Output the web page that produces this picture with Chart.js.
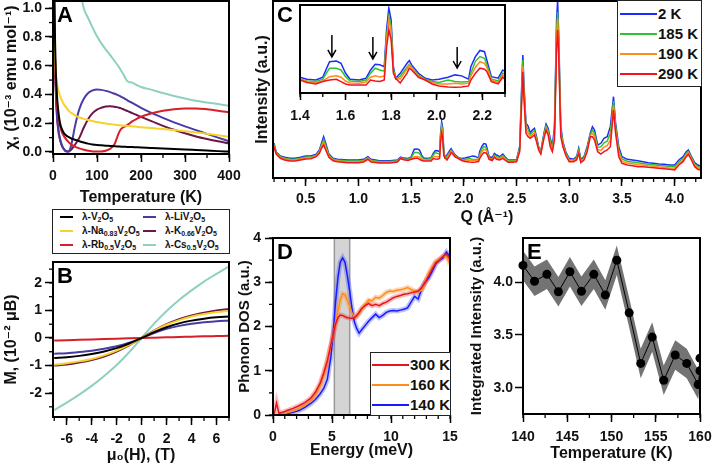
<!DOCTYPE html>
<html>
<head>
<meta charset="utf-8">
<script src="https://cdn.jsdelivr.net/npm/chart.js@4.4.0/dist/chart.umd.min.js"></script>
<style>
  body { margin: 0; width: 713px; height: 465px; position: relative; overflow: hidden; background: #fff;
         font-family: 'Liberation Sans', 'DejaVu Sans', sans-serif; color: #111; }
  canvas { position: absolute; }
  .leg { position: absolute; border: 1px solid #222; background: #fff; font-weight: bold; z-index: 5; }
  .leg .it { position: absolute; white-space: nowrap; }
  .leg .ln { position: absolute; height: 2px; }
  .leg sub { font-size: 7px; vertical-align: -2px; line-height: 0; }
</style>
</head>
<body>
<canvas id="cA" width="245" height="210" style="left:0;top:0"></canvas>
<canvas id="cB" width="245" height="209" style="left:0;top:256px"></canvas>
<canvas id="cC" width="463" height="228" style="left:250px;top:0"></canvas>
<canvas id="cIn" width="225" height="128" style="left:290px;top:0"></canvas>
<canvas id="cD" width="230" height="237" style="left:230px;top:228px"></canvas>
<canvas id="cE" width="253" height="237" style="left:460px;top:228px"></canvas>
<div id="legAB" class="leg" style="left:52px;top:209px;width:176px;height:43px"></div>
<div id="legC" class="leg" style="left:617px;top:0;width:83px;height:85px"></div>
<div id="legD" class="leg" style="left:370px;top:352px;width:79px;height:62px"></div>
<script>
// ---------- A: susceptibility vs temperature ----------
var tempA = [2,4,6,8,10,13,16,20,25,30,35,40,45,50,60,70,80,90,100,110,120,130,140,145,150,155,160,165,170,180,190,200,225,250,275,300,325,350,375,400];
var chiV  = [1.5,0.9,0.6,0.45,0.35,0.26,0.2,0.16,0.13,0.115,0.105,0.097,0.09,0.085,0.075,0.066,0.058,0.052,0.048,0.046,0.044,0.042,0.04,0.039,0.038,0.037,0.036,0.036,0.035,0.034,0.033,0.032,0.028,0.025,0.021,0.018,0.014,0.01,0.006,0.003];
var chiNa = [1.0,0.7,0.56,0.5,0.46,0.42,0.39,0.36,0.33,0.31,0.29,0.275,0.265,0.255,0.24,0.23,0.222,0.215,0.208,0.203,0.198,0.194,0.19,0.188,0.186,0.185,0.183,0.182,0.181,0.178,0.175,0.172,0.166,0.16,0.153,0.145,0.136,0.127,0.117,0.106];
var chiRb = [1.0,0.7,0.5,0.38,0.3,0.23,0.18,0.14,0.11,0.088,0.07,0.056,0.046,0.037,0.025,0.015,0.008,0.004,0.003,0.004,0.009,0.022,0.055,0.095,0.135,0.16,0.172,0.18,0.19,0.213,0.23,0.245,0.27,0.287,0.298,0.303,0.303,0.297,0.287,0.275];
var chiLi = [1.2,0.75,0.48,0.32,0.22,0.14,0.09,0.05,0.02,0.005,0.003,0.03,0.1,0.18,0.3,0.37,0.41,0.428,0.435,0.432,0.425,0.416,0.405,0.399,0.392,0.384,0.376,0.367,0.358,0.341,0.324,0.307,0.27,0.237,0.206,0.178,0.152,0.126,0.1,0.075];
var chiK  = [1.1,0.7,0.45,0.3,0.21,0.13,0.085,0.045,0.018,0.005,0.003,0.012,0.03,0.05,0.1,0.17,0.23,0.27,0.295,0.308,0.316,0.318,0.315,0.312,0.308,0.303,0.297,0.29,0.284,0.27,0.257,0.244,0.213,0.182,0.155,0.13,0.108,0.09,0.074,0.06];
var chiCs = [null,null,null,null,null,null,null,null,null,null,null,null,null,1.35,1.15,1.0,0.93,0.865,0.805,0.755,0.712,0.673,0.632,0.612,0.59,0.565,0.54,0.51,0.49,0.482,0.466,0.452,0.432,0.41,0.39,0.372,0.356,0.344,0.333,0.322];
var tickAx = [0,100,200,300,400];
var tickAy = [0,0.2,0.4,0.6,0.8,1.0];

// ---------- B: magnetisation vs field ----------
var fieldB = [-7,-6,-5,-4,-3,-2,-1,0,1,2,3,4,5,6,7];
var magV  = [-0.73,-0.7,-0.65,-0.58,-0.49,-0.37,-0.2,0,0.21,0.39,0.53,0.63,0.7,0.75,0.78];
var magNa = [-0.97,-0.92,-0.85,-0.76,-0.63,-0.46,-0.25,0,0.26,0.48,0.65,0.78,0.87,0.94,0.99];
var magRb = [-0.09,-0.08,-0.065,-0.052,-0.04,-0.027,-0.013,0,0.012,0.024,0.036,0.048,0.06,0.07,0.08];
var magLi = [-0.57,-0.55,-0.51,-0.46,-0.39,-0.3,-0.17,0,0.18,0.33,0.44,0.52,0.57,0.61,0.63];
var magK  = [-1.0,-0.96,-0.89,-0.8,-0.67,-0.49,-0.27,0,0.27,0.5,0.68,0.82,0.92,1.0,1.05];
var magCs = [-2.62,-2.35,-2.06,-1.74,-1.38,-0.98,-0.52,0,0.52,0.98,1.38,1.73,2.05,2.33,2.6];
var tickBx = [-6,-4,-2,0,2,4,6];
var tickBy = [-2,-1,0,1,2];

var abNames = ['λ-V<sub>2</sub>O<sub>5</sub>', 'λ-Na<sub>0.83</sub>V<sub>2</sub>O<sub>5</sub>', 'λ-Rb<sub>0.5</sub>V<sub>2</sub>O<sub>5</sub>',
               'λ-LiV<sub>2</sub>O<sub>5</sub>', 'λ-K<sub>0.66</sub>V<sub>2</sub>O<sub>5</sub>', 'λ-Cs<sub>0.5</sub>V<sub>2</sub>O<sub>5</sub>'];
var abColors = ['#000000', '#f7d22a', '#d61f26', '#4a3aa6', '#6d1547', '#8fd0c1'];

// ---------- C: diffraction ----------
var qC = [0.2,0.22,0.26,0.3,0.35,0.4,0.45,0.5,0.55,0.6,
  0.63,0.65,0.67,0.69,0.72,0.76,0.8,0.9,1.0,1.05,
  1.09,1.12,1.2,1.3,1.37,1.4,1.43,1.47,1.5,1.52,
  1.53,1.56,1.58,1.6,1.62,1.66,1.69,1.71,1.73,1.75,
  1.77,1.78,1.79,1.8,1.81,1.82,1.84,1.87,1.88,1.89,
  1.92,1.95,1.98,2.01,2.05,2.08,2.11,2.14,2.15,2.17,
  2.19,2.21,2.22,2.24,2.27,2.29,2.31,2.34,2.37,2.39,
  2.42,2.46,2.5,2.53,2.55,2.56,2.57,2.59,2.61,2.63,
  2.65,2.67,2.69,2.71,2.73,2.76,2.78,2.8,2.82,2.84,
  2.86,2.88,2.89,2.9,2.92,2.94,2.97,3.0,3.04,3.07,
  3.09,3.11,3.14,3.17,3.2,3.22,3.24,3.27,3.3,3.33,
  3.36,3.39,3.42,3.44,3.47,3.5,3.55,3.6,3.65,3.7,
  3.75,3.8,3.85,3.9,3.95,4.0,4.04,4.08,4.11,4.13,
  4.16,4.19,4.22,4.24];
var int2K = [36.7,28,24,22.7,21.7,21.7,22.7,24,24,25.7,
  30,36.7,43.3,36.7,26,21.7,20.7,20,20,20.7,
  23.3,20.7,19.3,19.3,20,22.9,21.9,21.5,22.9,28.3,
  30.8,31.1,30,24.9,21.9,21.5,22.4,26.6,29.5,29.2,
  28.3,47,58,52,28.3,22.4,24.9,30,31.4,29.2,
  24.9,22.4,21.5,21.9,22.9,24.1,23.6,21.9,28.3,33.4,
  36.5,35.9,31.7,23.2,22.4,26.6,25,23.3,26,23.3,
  20,20,20.3,33.3,96.7,125,96.7,56.7,54,47.3,
  50,51.7,43.3,33.3,28.3,46.7,56,51.7,41.7,33.3,
  53.3,160,179,146.7,53.3,38.3,27.3,21.7,20.7,23.3,
  31.7,20.7,23.3,33.3,46.7,53.3,50,35,36.7,41.7,
  43.3,53.3,83.3,56.7,33.3,23.3,20.7,20,19.3,18.3,
  17.3,16.7,16,15.7,15,15,20,23.3,28.3,30,
  23.3,17.3,15,14];
var int185K = [35.5,27.3,23.2,21.8,20.8,20.8,21.8,23,23.1,24.9,
  28.9,35,40.4,34.4,24.8,20.9,19.9,19.1,19.1,19.8,
  22.4,19.8,18.6,18.6,19.3,22,21,20.7,22,25.8,
  27.5,27.5,26.6,23.2,21,20.7,21.5,25,27.5,26.6,
  26,44,54,49,27,22,23.5,28,29.5,28,
  24,21.9,20.7,20.2,21.5,20.7,20.5,20.7,25,31,
  33.4,32.5,29.5,22,21,25,23.6,22.2,24.6,22.2,
  19.2,19.2,19.6,31.6,91,120,92,53.3,50.6,45.4,
  47.8,49.5,41.6,32.2,27.5,45,54,49.5,38.9,31.6,
  49,150,168,140,50,36.6,26.2,20.6,19.9,22.2,
  30,19.6,22.2,31.6,45.6,50,46.7,32.8,33.1,37.2,
  38.9,46.7,79,53.3,30,21.1,18.8,18.1,17.3,16.6,
  15.8,15.2,14.6,14.2,13.6,13.3,18.3,21.6,26.6,28.6,
  22.2,16,13.6,12.7];
var int190K = [34.5,26.7,22.5,20.9,19.9,19.9,20.9,22,22.2,24.1,
  27.8,33.4,37.9,32.3,23.8,20.1,19.1,18.2,18.2,18.9,
  21.5,18.9,17.8,17.8,18.7,21.9,20.7,20.2,21,22.5,
  23.2,23.6,22.9,21,20,19.9,20.5,22.9,23.6,23,
  23.5,42,52,46,26,22.4,22,27,29.2,27.5,
  23.5,21.5,20.2,19.5,19.5,19.9,19.5,19.9,23.5,28,
  30.8,30,28,21.5,20.2,24,22.1,21.1,23.1,21.1,
  18.5,18.5,19,30,86,114,88,50,47,43.6,
  45.5,47.2,40,31.1,26.8,43.3,52,47.2,36.1,30,
  44.5,140,161.7,133,46.6,35,25.1,19.4,19.1,21.1,
  28.3,18.4,21.1,30,44.4,46.6,43.3,30.5,29.6,32.8,
  34.4,40,74.5,50,26.7,18.9,16.9,16.2,15.3,15,
  14.2,13.8,13.1,12.8,12.1,11.7,16.7,20,25,27.1,
  21.1,14.6,12.1,11.3];
var int290K = [33.3,26,21.7,20,19,19,20,21,21.3,23.3,
  26.7,31.7,35,30,22.7,19.3,18.3,17.3,17.3,18,
  20.7,18,17,17,18,21.5,20.2,19.5,20.7,21.3,
  21.5,21.9,20.7,19.5,19,19,19,21.5,21,20.7,
  21.5,38,47,42,25,22.4,20,25,27.5,26.6,
  22.9,21.5,19.5,18.5,18,17.8,18,18.5,21.5,24.9,
  27.5,27,25.8,20.7,19.5,22.9,20.7,20,21.7,20,
  17.7,17.7,18.3,28.3,80,108.3,83.3,46.7,43.3,41.7,
  43.3,45,38.3,30,26,41.7,50,45,33.3,28.3,
  40,130,150,126.7,43.3,33.3,24,18.3,18.3,20,
  26.7,17.3,20,28.3,43.3,43.3,40,28.3,26,28.3,
  30,33.3,70,46.7,23.3,16.7,15,14.3,13.3,13.3,
  12.7,12.3,11.7,11.3,10.7,10,15,18.3,23.3,25.7,
  20,13.3,10.7,10];
var cNames = ['2 K', '185 K', '190 K', '290 K'];
var cColors = ['#1d2bff', '#2fc42f', '#ff8a1e', '#f0141e'];
var tickCx = [0.5,1.0,1.5,2.0,2.5,3.0,3.5,4.0];
var tickInx = [1.4,1.6,1.8,2.0,2.2];
var arrowQ = [1.54, 1.72, 2.09];
var arrowFrom = [44.4, 43.4, 38.3];
var arrowTo = [33.2, 32.2, 27.6];

// ---------- D: phonon DOS ----------
var dosE = [0.1,0.3,0.5,0.8,1.2,1.7,2.2,2.7,3.2,3.6, 4.0,4.3,4.6,4.9,5.1,5.3,5.5,5.7,5.9,6.1,
  6.3,6.5,6.7,6.9,7.1,7.3,7.5,7.8,8.1,8.4, 8.7,9.0,9.3,9.6,9.9,10.2,10.5,10.8,11.1,11.4,
  11.7,12.0,12.3,12.6,12.9,13.2,13.5,13.8,14.1,14.4, 14.7,15.0];
var dos300 = [0.02,0.27,0.04,0.06,0.1,0.15,0.21,0.28,0.38,0.52, 0.72,0.95,1.22,1.58,1.82,2.05,2.2,2.26,2.25,2.22,
  2.2,2.19,2.18,2.2,2.25,2.32,2.4,2.47,2.52,2.47, 2.5,2.47,2.52,2.55,2.6,2.65,2.68,2.7,2.73,2.74,
  2.76,2.78,2.8,2.88,3.0,3.15,3.3,3.44,3.5,3.58, 3.64,3.52];
var dos160 = [null,null,0.0,0.02,0.05,0.09,0.14,0.22,0.32,0.45, 0.65,0.9,1.2,1.55,1.82,2.1,2.35,2.6,2.74,2.72,
  2.6,2.45,2.3,2.2,2.22,2.3,2.38,2.5,2.6,2.58, 2.66,2.64,2.7,2.77,2.8,2.79,2.82,2.83,2.85,2.88,
  2.84,2.8,2.78,2.82,3.0,3.2,3.35,3.47,3.52,3.58, 3.6,3.4];
var dos140 = [null,null,0.0,0.01,0.03,0.06,0.1,0.17,0.26,0.35, 0.48,0.6,0.8,1.3,1.85,2.55,3.1,3.45,3.55,3.45,
  3.15,2.8,2.4,2.1,1.95,1.85,1.92,2.02,2.12,2.2, 2.28,2.2,2.25,2.32,2.35,2.36,2.35,2.37,2.39,2.42,
  2.55,2.68,2.62,2.85,3.0,3.1,3.25,3.42,3.5,3.55, 3.68,3.58];
var dNames = ['300 K', '160 K', '140 K'];
var dColors = ['#e8141c', '#ff8c1a', '#1a1aff'];
var dBands = ['rgba(240,70,70,0.35)', 'rgba(255,150,60,0.4)', 'rgba(60,80,255,0.35)'];
var dosWindow = [5.2, 6.5];
var tickDx = [0,5,10,15];
var tickDy = [0,1,2,3,4];

// ---------- E: integrated intensity ----------
var tempE = [140.0,141.3,142.7,144.0,145.3,146.6,148.0,149.3,150.6,152.0,153.3,154.6,155.9,157.2,158.5,159.8,160.0,160.0];
var intE  = [4.16,4.01,4.075,3.91,4.10,3.915,4.075,3.88,4.21,3.71,3.23,3.48,3.07,3.31,3.23,3.03,3.16,3.28];
var errE  = [0.14,0.14,0.14,0.14,0.14,0.14,0.14,0.14,0.14,0.14,0.14,0.14,0.14,0.14,0.14,0.14,0.14,0.14];
var tickEx = [140,145,150,155,160];
var tickEy = [3.0,3.5,4.0];

// ---------- helpers ----------
Chart.defaults.font.family = "'Liberation Sans', 'DejaVu Sans', sans-serif";
Chart.defaults.font.weight = 'bold';
Chart.defaults.color = '#111';
Chart.defaults.animation = false;
Chart.defaults.responsive = false;
Chart.defaults.devicePixelRatio = 1;
Chart.defaults.plugins.legend.display = false;
Chart.defaults.plugins.tooltip.enabled = false;
Chart.defaults.elements.point.radius = 0;

function xy(xs, ys) { return xs.map(function (x, i) { return { x: x, y: ys[i] }; }); }

function axis(o) {
  return {
    type: 'linear', min: o.min, max: o.max, display: o.display !== false,
    afterBuildTicks: function (s) { s.ticks = (o.ticks || []).map(function (v) { return { value: v }; }); },
    afterFit: function (s) {
      if (o.horiz) s.height = o.size || 0; else s.width = o.size || 0;
      s.paddingLeft = s.paddingRight = s.paddingTop = s.paddingBottom = 0;
    },
    border: { display: false },
    grid: { drawOnChartArea: false, drawTicks: !!o.tl, tickLength: o.tl || 0, tickWidth: 1.5, tickColor: '#000' },
    ticks: { display: o.labels !== false, padding: o.pad || 0, autoSkip: false, maxRotation: 0,
             color: '#111', font: { size: 14, weight: 'bold' }, callback: o.fmt || function (v) { return String(v); } },
    title: { display: !!o.title, text: o.title, color: '#111', font: { size: o.ts || 16, weight: 'bold' },
             padding: { top: o.tpad || 0, bottom: o.tpad || 0 } }
  };
}

// box, minor ticks, shaded window, arrows and panel letter
Chart.register({
  id: 'frame',
  beforeDatasetsDraw: function (chart, args, o) {
    var a = chart.chartArea, ctx = chart.ctx;
    if (o.white) { ctx.save(); ctx.fillStyle = '#fff'; ctx.fillRect(a.left, a.top, a.width, a.height); ctx.restore(); }
    if (o.band) {
      var xs = chart.scales.x, x0 = xs.getPixelForValue(o.band[0]), x1 = xs.getPixelForValue(o.band[1]);
      ctx.save();
      ctx.fillStyle = '#d4d4d4'; ctx.fillRect(x0, a.top, x1 - x0, a.height);
      ctx.strokeStyle = '#9a9a9a'; ctx.lineWidth = 1.5; ctx.strokeRect(x0, a.top, x1 - x0, a.height);
      ctx.restore();
    }
  },
  afterDraw: function (chart, args, o) {
    if (!o || !o.on) return;
    var a = chart.chartArea, ctx = chart.ctx;
    ctx.save();
    ctx.strokeStyle = '#000';
    ctx.lineWidth = 1.3;
    (o.minor || []).forEach(function (m) {
      var s = chart.scales[m[0]], step = m[1], len = m[2];
      for (var v = Math.ceil(s.min / step - 1e-9) * step; v <= s.max + 1e-9; v += step) {
        var p = s.getPixelForValue(v);
        ctx.beginPath();
        if (s.isHorizontal()) { ctx.moveTo(p, a.bottom); ctx.lineTo(p, a.bottom + len); }
        else { ctx.moveTo(a.left, p); ctx.lineTo(a.left - len, p); }
        ctx.stroke();
      }
    });
    if (o.arrows) {
      var xs = chart.scales.x, ys = chart.scales.y;
      ctx.lineWidth = 1.5;
      o.arrows.q.forEach(function (q, i) {
        var x = xs.getPixelForValue(q), y0 = ys.getPixelForValue(o.arrows.from[i]), y1 = ys.getPixelForValue(o.arrows.to[i]);
        ctx.beginPath(); ctx.moveTo(x, y0); ctx.lineTo(x, y1);
        ctx.moveTo(x - 4, y1 - 7); ctx.lineTo(x, y1); ctx.lineTo(x + 4, y1 - 7);
        ctx.stroke();
      });
    }
    ctx.lineWidth = o.lw || 2;
    ctx.strokeRect(a.left, a.top, a.right - a.left, a.bottom - a.top);
    if (o.letter) {
      ctx.fillStyle = '#000';
      ctx.font = "bold 22px 'Liberation Sans', sans-serif";
      ctx.textBaseline = 'top';
      ctx.fillText(o.letter, a.left + 4, a.top + 4);
    }
    ctx.restore();
  }
});

// ---------- chart A ----------
var aSeries = [chiV, chiNa, chiRb, chiLi, chiK, chiCs];
new Chart(document.getElementById('cA'), {
  type: 'line',
  data: { datasets: aSeries.map(function (s, i) {
    return { data: xy(tempA, s), borderColor: abColors[i], borderWidth: 2, cubicInterpolationMode: 'monotone' };
  }) },
  options: {
    layout: { padding: { left: 0, top: 1, right: 16, bottom: 0 } },
    scales: {
      x: axis({ horiz: true, min: 0, max: 400, ticks: tickAx, size: 56, tl: 8, pad: 6, title: 'Temperature (K)', tpad: 3 }),
      y: axis({ min: -0.014, max: 1.05, ticks: tickAy, size: 53, tl: 8, pad: 3, fmt: function (v) { return v.toFixed(1); },
                title: 'χ, (10⁻³ emu mol⁻¹)', tpad: 2 })
    },
    plugins: { frame: { on: true, letter: 'A', minor: [['x', 50, 4], ['y', 0.1, 4]] } }
  }
});

// ---------- chart B ----------
var bSeries = [magV, magNa, magRb, magLi, magK, magCs];
new Chart(document.getElementById('cB'), {
  type: 'line',
  data: { datasets: bSeries.map(function (s, i) {
    return { data: xy(fieldB, s), borderColor: abColors[i], borderWidth: 2, cubicInterpolationMode: 'monotone' };
  }) },
  options: {
    layout: { padding: { left: 0, top: 6, right: 16, bottom: 0 } },
    scales: {
      x: axis({ horiz: true, min: -7.1, max: 7.0, ticks: tickBx, size: 48, tl: 8, pad: 6, title: 'μ₀(H), (T)', tpad: 0 }),
      y: axis({ min: -2.87, max: 2.76, ticks: tickBy, size: 53, tl: 8, pad: 3, title: 'M, (10⁻² μB)', tpad: 2 })
    },
    plugins: { frame: { on: true, letter: 'B', minor: [['x', 1, 4], ['y', 0.5, 4]] } }
  }
});

// ---------- chart C ----------
var cSeries = [int2K, int185K, int190K, int290K];
function cData(lw) {
  return cSeries.map(function (s, i) {
    return { data: xy(qC, s), borderColor: cColors[i], borderWidth: lw, order: 3 - i };
  });
}
new Chart(document.getElementById('cC'), {
  type: 'line',
  data: { datasets: cData(1.5) },
  options: {
    layout: { padding: { left: 0, top: 1, right: 12, bottom: 0 } },
    scales: {
      x: axis({ horiz: true, min: 0.19, max: 4.25, ticks: tickCx, size: 50, tl: 8, pad: 5,
                fmt: function (v) { return v.toFixed(1); }, title: 'Q (Å⁻¹)', tpad: 1 }),
      y: axis({ min: 2, max: 179, ticks: [], size: 23, labels: false, title: 'Intensity (a.u.)', tpad: 3 })
    },
    plugins: { frame: { on: true, letter: 'C', minor: [['x', 0.1, 4]] } }
  }
});

// inset
new Chart(document.getElementById('cIn'), {
  type: 'line',
  data: { datasets: cData(1.5) },
  options: {
    layout: { padding: { left: 10, top: 5, right: 10, bottom: 0 } },
    scales: {
      x: axis({ horiz: true, min: 1.4, max: 2.3, ticks: tickInx, size: 35, tl: 7, pad: 8,
                fmt: function (v) { return v.toFixed(1); } }),
      y: axis({ min: 14.9, max: 59.6, ticks: [], size: 0, display: false })
    },
    plugins: { frame: { on: true, white: true, minor: [['x', 0.1, 4]],
                        arrows: { q: arrowQ, from: arrowFrom, to: arrowTo } } }
  }
});

// ---------- chart D ----------
var dSeries = [dos300, dos160, dos140];
var dSets = [];
dSeries.forEach(function (s, i) {
  dSets.push({ data: xy(dosE, s), borderColor: dBands[i], borderWidth: 5, order: 10 });
});
dSeries.forEach(function (s, i) {
  dSets.push({ data: xy(dosE, s), borderColor: dColors[i], borderWidth: 1.5, order: i });
});
new Chart(document.getElementById('cD'), {
  type: 'line',
  data: { datasets: dSets },
  options: {
    layout: { padding: { left: 0, top: 10, right: 10, bottom: 0 } },
    scales: {
      x: axis({ horiz: true, min: 0, max: 15, ticks: tickDx, size: 50, tl: 8, pad: 6, title: 'Energy (meV)', tpad: 5 }),
      y: axis({ min: 0, max: 4, ticks: tickDy, size: 43, tl: 8, pad: 4, title: 'Phonon DOS (a.u.)', tpad: 6, ts: 15 })
    },
    plugins: { frame: { on: true, letter: 'D', band: dosWindow, minor: [['x', 1, 4], ['y', 0.5, 4]] } }
  }
});

// ---------- chart E ----------
new Chart(document.getElementById('cE'), {
  type: 'line',
  data: { datasets: [
    { data: xy(tempE, intE.map(function (v, i) { return v + errE[i]; })), borderWidth: 0, borderColor: 'rgba(0,0,0,0)', order: 5 },
    { data: xy(tempE, intE.map(function (v, i) { return v - errE[i]; })), borderWidth: 0, borderColor: 'rgba(0,0,0,0)',
      fill: '-1', backgroundColor: 'rgba(100,100,100,0.9)', order: 5 },
    { data: xy(tempE, intE), borderColor: '#000', borderWidth: 1, pointRadius: 4.5, pointBackgroundColor: '#000',
      pointBorderWidth: 0, order: 0, clip: { left: 6, top: 0, right: 0, bottom: 0 } }
  ] },
  options: {
    layout: { padding: { left: 0, top: 10, right: 13, bottom: 0 } },
    scales: {
      x: axis({ horiz: true, min: 140, max: 160, ticks: tickEx, size: 51, tl: 8, pad: 7, title: 'Temperature (K)', tpad: 2 }),
      y: axis({ min: 2.75, max: 4.42, ticks: tickEy, size: 63, tl: 8, pad: 2, fmt: function (v) { return v.toFixed(1); },
                title: 'Integrated Intensity (a.u.)', tpad: 8, ts: 15 })
    },
    plugins: { frame: { on: true, letter: 'E', minor: [['x', 2.5, 4]] } }
  }
});

// ---------- html legends ----------
function addItem(box, x, y, w, color, html, size, gap) {
  var ln = document.createElement('div');
  ln.className = 'ln';
  ln.style.cssText = 'left:' + x + 'px;top:' + (y - 1) + 'px;width:' + w + 'px;background:' + color;
  box.appendChild(ln);
  var t = document.createElement('div');
  t.className = 'it';
  t.innerHTML = html;
  t.style.cssText = 'left:' + (x + w + gap) + 'px;top:' + (y - size * 0.62) + 'px;font-size:' + size + 'px';
  box.appendChild(t);
}
var legAB = document.getElementById('legAB');
abNames.forEach(function (n, i) {
  var col = Math.floor(i / 3), row = i % 3;
  addItem(legAB, 7 + col * 83, 7 + row * 14, 13, abColors[i], n, 10, 9);
});
var legC = document.getElementById('legC');
cNames.forEach(function (n, i) { addItem(legC, 2, 13 + i * 20, 37, cColors[i], n, 15, 1); });
var legD = document.getElementById('legD');
dNames.forEach(function (n, i) { addItem(legD, 1, 12 + i * 20, 37, dColors[i], n, 15, 1); });
</script>
</body>
</html>
